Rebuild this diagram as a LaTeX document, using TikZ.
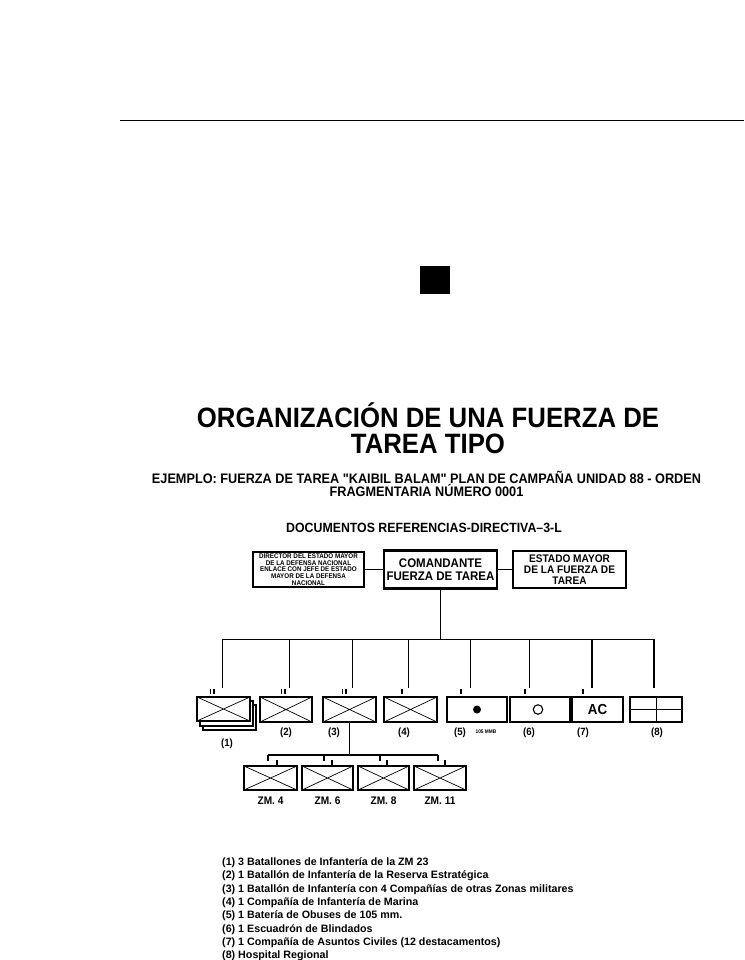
\documentclass[tikz,border=0pt]{standalone}
\usepackage{fontspec}
\setmainfont{Liberation Sans}
\newfontfamily\hv[FakeStretch=0.92]{Liberation Sans}

\begin{document}
\begin{tikzpicture}[x=1pt,y=-1pt,
  hq/.style={draw,align=center,inner sep=0pt,font=\hv\bfseries},
  unit/.style={draw,fill=white,line width=1.3pt,inner sep=0pt,minimum width=53pt,minimum height=25pt},
  inf/.style={unit,path picture={\draw[line width=0.7pt] (path picture bounding box.north west)--(path picture bounding box.south east) (path picture bounding box.north east)--(path picture bounding box.south west);}},
  num/.style={font=\hv\bfseries\fontsize{10.5}{12}\selectfont,inner sep=0pt},
  ech/.style={line width=1.3pt},
  link/.style={line width=0.9pt}]
\useasboundingbox (0,0) rectangle (744,960);

\draw[line width=0.8pt] (120,120) -- (744,120);
\fill (420,266) rectangle (450,294);

\node[anchor=base,align=center,inner sep=0pt,font=\hv\bfseries\fontsize{28}{26}\selectfont] (title) at (428,453.5)
  {ORGANIZACIÓN DE UNA FUERZA DE\\TAREA TIPO};
\node[anchor=base,align=center,inner sep=0pt,font=\hv\bfseries\fontsize{13.8}{13}\selectfont] (sub) at (426.5,496.5)
  {EJEMPLO: FUERZA DE TAREA "KAIBIL BALAM" PLAN DE CAMPAÑA UNIDAD 88 - ORDEN\\FRAGMENTARIA NÚMERO 0001};
\node[anchor=base,font=\hv\bfseries\fontsize{13.4}{14}\selectfont] (docs) at (424,532.3) {DOCUMENTOS REFERENCIAS-DIRECTIVA–3-L};

\node[hq,line width=1.8pt,minimum width=111pt,minimum height=35pt,font=\hv\bfseries\fontsize{6.8}{6.6}\selectfont] (dir) at (308.5,569.5)
  {DIRECTOR DEL ESTADO MAYOR\\DE LA DEFENSA NACIONAL\\ENLACE CON JEFE DE ESTADO\\MAYOR DE LA DEFENSA\\NACIONAL};
\node[hq,line width=2.6pt,minimum width=113pt,minimum height=38pt,font=\hv\bfseries\fontsize{12.5}{12.7}\selectfont] (cmd) at (440.5,569.5)
  {COMANDANTE\\FUERZA DE TAREA};
\node[hq,line width=1.8pt,minimum width=113pt,minimum height=37pt,font=\hv\bfseries\fontsize{11}{11}\selectfont] (staff) at (569.5,569.5)
  {ESTADO MAYOR\\DE LA FUERZA DE\\TAREA};
\draw[line width=1.8pt] (dir) -- (cmd) -- (staff);

\coordinate (bus) at (440.5,639);
\draw[link] (cmd) -- (bus);
\foreach \x [count=\i] in {222,289,352,408,470,529,592,654}
  \coordinate (d\i) at (\x,688);
\draw[link] (d1 |- bus) -- (d8 |- bus);
\foreach \i in {1,...,6}
  \draw[link] (d\i |- bus) -- (d\i);
\foreach \i in {7,8}
  \draw[line width=1.4pt] (d\i |- bus) -- (d\i);

\node[unit] (u1c) at (229.5,717.5) {};
\node[unit] (u1b) at (226.5,713.5) {};
\node[inf,minimum height=24pt] (u1) at (223.5,709) {};
\node[inf,minimum width=52pt] (u2) at (286,709.5) {};
\node[inf] (u3) at (349.5,709.5) {};
\node[inf] (u4) at (410.5,709.5) {};
\node[unit,minimum width=60pt] (u5) at (477,709.5) {};
\node[unit,minimum width=60pt] (u6) at (540,709.5) {};
\node[unit,minimum width=51pt,font=\hv\bfseries\fontsize{14.5}{15}\selectfont] (u7) at (597.5,709.5) {AC};
\node[unit,minimum width=52pt] (u8) at (656,709.5) {};
\node[circle,fill,inner sep=0pt,minimum size=8pt] (dot) at (u5) {};
\node[circle,draw,line width=1.1pt,inner sep=0pt,minimum size=9.5pt] (ring) at (538,709.5) {};
\draw[line width=1pt] (u8.north) -- (u8.south) (u8.west) -- (u8.east);

\foreach \x in {210.5,214,281.5,285,342.5,346,402,461,525,583}
  \draw[ech] (\x,689) -- (\x,694);

\node[num] (l1) at (227,744) {(1)};
\node[num] (l2) at (286,733) {(2)};
\node[num] (l3) at (334,733) {(3)};
\node[num] (l4) at (404,733) {(4)};
\node[num] (l5) at (460,733) {(5)};
\node[font=\hv\bfseries\fontsize{5.2}{6}\selectfont,inner sep=0pt] (mmb) at (486,732) {105 MMB};
\node[num] (l6) at (529,733) {(6)};
\node[num] (l7) at (583,733) {(7)};
\node[num] (l8) at (657,733) {(8)};

\coordinate (sbus) at (349.5,755);
\draw[line width=1.2pt] (u3) -- (sbus);
\foreach \x [count=\i] in {268,324,380,438}
  \coordinate (s\i) at (\x,761);
\draw[line width=1.2pt] (s1 |- sbus) -- (s4 |- sbus);
\foreach \i in {1,...,4}
  \draw[line width=1.2pt] (s\i |- sbus) -- (s\i);
\foreach \x in {277,332,387,445}
  \draw[ech] (\x,760) -- (\x,765);

\foreach \x/\w/\n [count=\i] in {270.5/53/4,327.5/51/6,383.5/51/8,440/52/11}{
  \node[inf,minimum width=\w pt,minimum height=24pt] (z\i) at (\x,778) {};
  \node[num,font=\hv\bfseries\fontsize{11}{12}\selectfont] (zl\i) at (\x,801) {ZM. \n};
}

\foreach \t [count=\i] in {
  {(1) 3 Batallones de Infantería de la ZM 23},
  {(2) 1 Batallón de Infantería de la Reserva Estratégica},
  {(3) 1 Batallón de Infantería con 4 Compañías de otras Zonas militares},
  {(4) 1 Compañía de Infantería de Marina},
  {(5) 1 Batería de Obuses de 105 mm.},
  {(6) 1 Escuadrón de Blindados},
  {(7) 1 Compañía de Asuntos Civiles (12 destacamentos)},
  {(8) Hospital Regional}}
  \node[anchor=base west,inner sep=0pt,font=\bfseries\fontsize{10.7}{12}\selectfont] (leg\i) at (222,{865.5+13.3*(\i-1)}) {\t};
\end{tikzpicture}
\end{document}
